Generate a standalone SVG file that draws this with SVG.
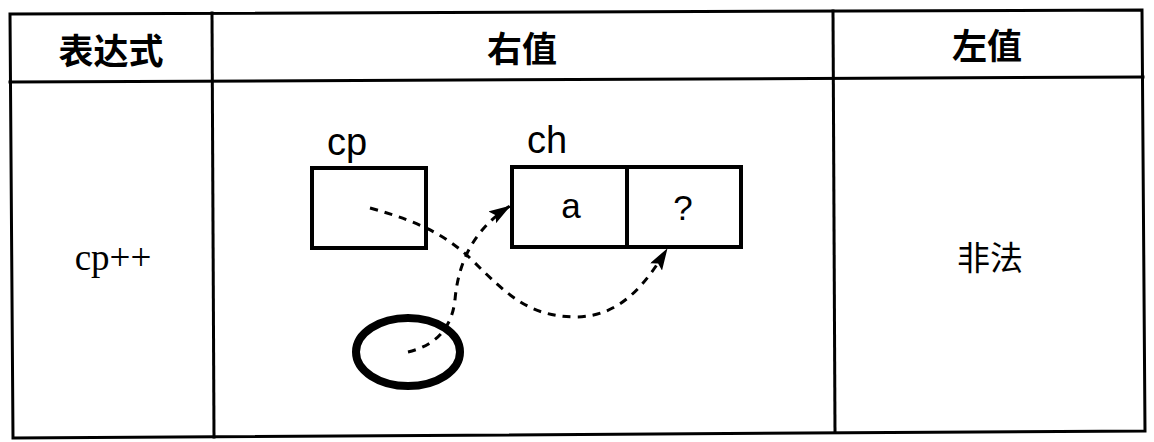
<svg xmlns="http://www.w3.org/2000/svg" width="1154" height="442" viewBox="0 0 1154 442">
<style>
.grid{stroke:#000;stroke-width:3;fill:none;stroke-linecap:square}
.hdr{font-family:"Noto Sans CJK SC","Noto Sans",sans-serif;font-size:35px;font-weight:bold;fill:#000;text-anchor:middle;dominant-baseline:central}
.cjk{font-family:"Noto Sans CJK SC","Noto Sans",sans-serif;font-size:33px;fill:#000;text-anchor:middle;dominant-baseline:central}
.lbl{font-family:"Liberation Sans",Arial,sans-serif;font-size:38px;fill:#000}
.val{font-family:"Liberation Sans",Arial,sans-serif;font-size:35px;fill:#000;text-anchor:middle}
.expr{font-family:"Liberation Serif","Times New Roman",serif;font-size:37px;fill:#000;text-anchor:middle}
.box{fill:#fff;stroke:#000;stroke-width:4}
.conn{fill:none;stroke:#000;stroke-width:3;stroke-dasharray:8 7;marker-end:url(#arr)}
</style>
<defs>
<marker id="arr" viewBox="0 0 22 14" refX="21" refY="7" markerWidth="22" markerHeight="14" markerUnits="userSpaceOnUse" orient="auto">
<path d="M0,0 L22,7 L0,14 L4,7 Z" fill="#000"/>
</marker>
</defs>
<rect width="1154" height="442" fill="#fff"/>
<g id="table">
<path class="grid" d="M10,14 L1142,10 L1145,431 L13,438 Z"/>
<line class="grid" x1="10" y1="82" x2="1143" y2="77"/>
<line class="grid" x1="212" y1="13" x2="214" y2="437"/>
<line class="grid" x1="833" y1="11" x2="835" y2="432"/>
</g>
<g id="headers">
<text class="hdr" x="111" y="48">表达式</text>
<text class="hdr" x="522" y="46">右值</text>
<text class="hdr" x="987" y="43">左值</text>
</g>
<g id="expr">
<text class="expr" x="113" y="270">cp++</text>
</g>
<g id="lvalue">
<text class="cjk" x="990" y="256">非法</text>
</g>
<g id="cp">
<text class="lbl" x="327" y="155">cp</text>
<rect class="box" x="312" y="168" width="114" height="80"/>
</g>
<g id="ch">
<text class="lbl" x="527" y="153">ch</text>
<rect class="box" x="512" y="167" width="229" height="80"/>
<line x1="627" y1="167" x2="627" y2="247" stroke="#000" stroke-width="4"/>
<text class="val" x="571" y="218">a</text>
<text class="val" x="683" y="220">?</text>
</g>
<g id="temp">
<ellipse cx="408" cy="352" rx="52" ry="34" fill="none" stroke="#000" stroke-width="8"/>
</g>
<g id="connectors">
<path class="conn" d="M408,352 Q450,342 455,300 Q460,238 510,206"/>
<path class="conn" d="M370,208 C420,222 445,235 470,258 C510,298 530,316 575,317 C620,317 645,285 667,249"/>
</g>
</svg>
